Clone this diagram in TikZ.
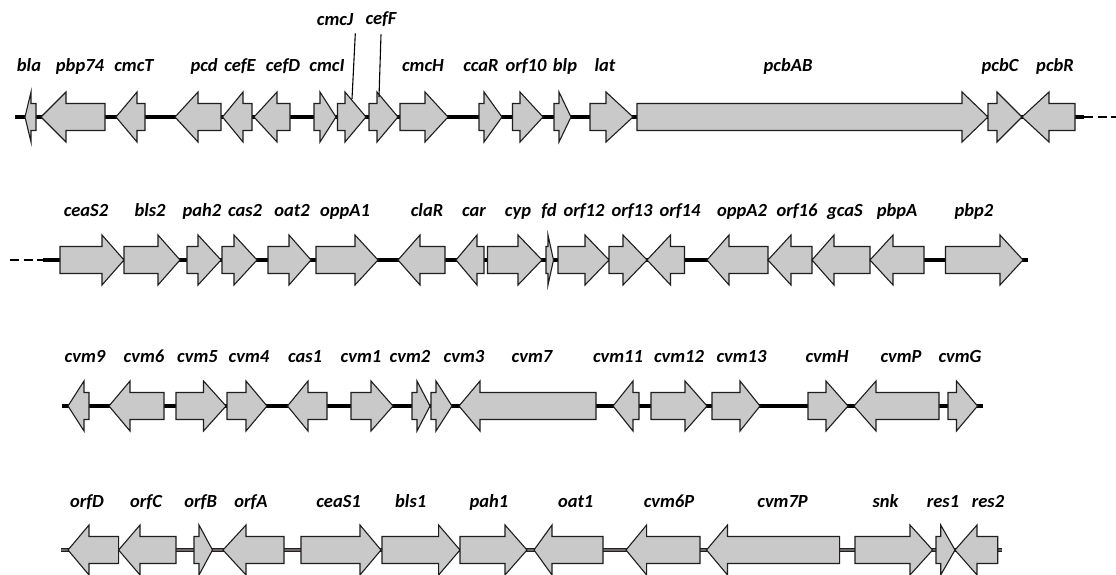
\documentclass[tikz,border=0pt]{standalone}
\usepackage{fontspec}
\setmainfont{Carlito}
\definecolor{genefill}{HTML}{C8C9C8}
\definecolor{geneline}{HTML}{1E1E1E}
\definecolor{lineB}{HTML}{231F20}
\definecolor{lineBmid}{HTML}{706666}

\tikzset{
  gene/.style={draw=geneline, fill=genefill, line width=1.1pt, line join=miter},
  genelabel/.style={font=\fontsize{18.5}{20}\selectfont\bfseries\itshape, anchor=base, inner sep=0pt},
  chrom/.style={draw=black, line width=3.6pt},
  chromgap/.style={draw=black, line width=2.8pt, dash pattern=on 9pt off 4.5pt},
  chromB/.style={draw=lineB, line width=1.4pt, double=lineBmid, double distance=1.1pt},
  lead/.style={draw=black, line width=1.1pt},
}

% #1 row, #2 blunt end, #3 head base, #4 tip
\newcommand{\genearrow}[4]{%
  \draw[gene] (#2,#1-13.5) -- (#3,#1-13.5) -- (#3,#1-25) -- (#4,#1)
    -- (#3,#1+25) -- (#3,#1+13.5) -- (#2,#1+13.5) -- cycle;}

\begin{document}
\begin{tikzpicture}[x=1pt,y=-1pt]
  \useasboundingbox[fill=white] (0,0) rectangle (1116,574);

  % backbones
  \draw[chrom] (15,117) -- (1084,117);
  \draw[chromgap] (1084,117) -- (1116,117);
  \draw[chromgap] (10,260) -- (43,260);
  \draw[chrom] (43,260) -- (1028,260);
  \draw[chrom] (62,406) -- (983,406);
  \draw[chromB] (61,550) -- (1002,550);

  % row 1
  \foreach \s/\b/\t/\lx/\n in {36/31/25/29/bla, 105/66/41/80/pbp74, 145/137/116/134/cmcT,
      221/198/175/204/pcd, 252/243/222.5/240/cefE, 290/277/254/283/cefD, 314/320/336/327/cmcI,
      400/425/448/423/cmcH, 479/484/502/481/ccaR, 512.5/520/543/526/orf10, 554/559/571/565/blp,
      590/606/633/605/lat, 637/962/988/788/pcbAB, 988/997/1022/1000/pcbC, 1075/1049/1022/1055/pcbR}
  {
    \genearrow{117}{\s}{\b}{\t}
    \node[genelabel] (\n) at (\lx,71) {\n};
  }
  \genearrow{117}{337.5}{345}{366}
  \genearrow{117}{369}{377}{398}
  \node[genelabel] (cmcJ) at (335,25) {cmcJ};
  \node[genelabel] (cefF) at (381,24) {cefF};
  \coordinate (cmcJ-in) at (352,99);
  \coordinate (cefF-in) at (379,97);
  \draw[lead] ([xshift=2pt,yshift=-8pt]cmcJ.south east) -- (cmcJ-in);
  \draw[lead] ([yshift=-8pt]cefF.south) -- (cefF-in);

  % row 2
  \foreach \s/\b/\t/\lx/\n in {60/102/124/86/ceaS2, 124/158/180/150/bls2, 187/198/221/202/pah2,
      222/234/257/245/cas2, 268/289/311/292/oat2, 316/355/378/345/oppA1, 445/420/398/427/claR,
      484/477/456/474/car, 487.5/518/542/518/cyp, 546/548/553.5/549/fd, 558/585/609/584/orf12,
      609/623/647/632/orf13, 684.5/670.5/647/680/orf14, 768/729/707/742/oppA2, 812/791/768/797/orf16,
      870/834/812/845/gcaS, 924/893/870/897/pbpA, 945.5/1000/1023/974/pbp2}
  {
    \genearrow{260}{\s}{\b}{\t}
    \node[genelabel] (\n) at (\lx,216) {\n};
  }

  % row 3
  \foreach \s/\b/\t/\lx/\n in {89/84/68/85/cvm9, 164/130/109/144/cvm6, 176/203.5/226/197.5/cvm5,
      227/246/267/249/cvm4, 327/308/287.5/305/cas1, 351/371/393/361/cvm1, 412/417/430/410/cvm2,
      431/436/452/464/cvm3, 596/480/459/532/cvm7, 639/633/613/618/cvm11, 651/685/707/679/cvm12,
      712/740/760/741.5/cvm13, 808/826/848/827/cvmH, 939/876/854/901/cvmP, 948/956.5/977.5/960/cvmG}
  {
    \genearrow{406}{\s}{\b}{\t}
    \node[genelabel] (\n) at (\lx,362) {\n};
  }

  % row 4
  \foreach \s/\b/\t/\lx/\n in {118.6/89/68/87/orfD, 176/140/118.6/146/orfC, 194/199/212.5/200.7/orfB,
      284/246/223/251/orfA, 301/360/381/338.6/ceaS1, 382/438.6/460/410.7/bls1, 460/505/527/489/pah1,
      603/552/534/575.7/oat1, 700/646.6/626/669/cvm6P, 839.6/727.5/706.5/782.6/cvm7P,
      855/910/932.6/885.6/snk, 936/940.7/955/943/res1, 997.7/977/955/988/res2}
  {
    \genearrow{550}{\s}{\b}{\t}
    \node[genelabel] (\n) at (\lx,507) {\n};
  }
\end{tikzpicture}
\end{document}
